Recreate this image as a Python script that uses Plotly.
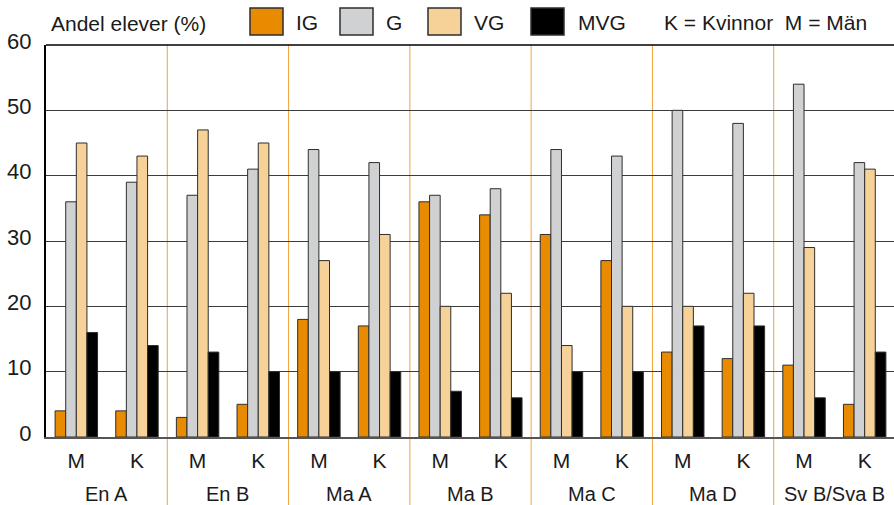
import plotly.graph_objects as go

# Kurser och kön (M = Män, K = Kvinnor)
courses = ["En A", "En B", "Ma A", "Ma B", "Ma C", "Ma D", "Sv B/Sva B"]
genders = ["M", "K"]

# Andel elever (%) per betyg, en post per kurs/kön i ordningen M, K
ig = [4, 4, 3, 5, 18, 17, 36, 34, 31, 27, 13, 12, 11, 5]
g = [36, 39, 37, 41, 44, 42, 37, 38, 44, 43, 50, 48, 54, 42]
vg = [45, 43, 47, 45, 27, 31, 20, 22, 14, 20, 20, 22, 29, 41]
mvg = [16, 14, 13, 10, 10, 10, 7, 6, 10, 10, 17, 17, 6, 13]

series_names = ["IG", "G", "VG", "MVG"]
series_values = [ig, g, vg, mvg]
series_colors = ["#E98B00", "#D0D1D3", "#F6D198", "#000000"]

y_ticks = [0, 10, 20, 30, 40, 50, 60]

W, H = 894, 505
ML, MR, MT, MB = 46, 0, 45, 68
PW, PH = W - ML - MR, H - MT - MB

FONT = "Liberation Sans, Arial, sans-serif"
TXT = "#1a1a1a"

n = len(courses) * len(genders)
xpos = list(range(n))
tick_text = [gd for _ in courses for gd in genders]

fig = go.Figure()
for name, vals, col in zip(series_names, series_values, series_colors):
    fig.add_trace(go.Bar(
        x=xpos, y=vals, name=name,
        marker=dict(color=col, line=dict(color="#2e2e2e", width=1)),
        showlegend=False, hoverinfo="x+y+name",
    ))

per_slot = PW / n
x_end = n - 0.5 - 1.0 / per_slot

def px2x(p):
    return (p - ML) / PW

def py2y(p):
    return (H - MB - p) / PH

shapes = []
annotations = []

# separators between courses, through the plot and the label area
for i in range(1, len(courses)):
    shapes.append(dict(
        type="line", xref="x", yref="paper",
        x0=2 * i - 0.5, x1=2 * i - 0.5, y0=-MB / PH, y1=1,
        line=dict(color="#F0A43C", width=1), layer="below",
    ))

# top frame line
shapes.append(dict(type="line", xref="paper", yref="paper", x0=0, x1=1.01, y0=1, y1=1,
                   line=dict(color="#000000", width=1.5)))

# course labels
for i, c in enumerate(courses):
    annotations.append(dict(
        x=2 * i + 0.5, xref="x", y=0, yref="paper", yshift=-57,
        text=c, showarrow=False, xanchor="center", yanchor="middle",
        font=dict(family=FONT, size=20, color=TXT),
    ))

# header: title text and legend
annotations.append(dict(
    x=px2x(49), y=py2y(23), xref="paper", yref="paper",
    text="Andel elever (%)", showarrow=False, xanchor="left", yanchor="middle",
    font=dict(family=FONT, size=21, color=TXT),
))
legend_items = [(250, 294), (340, 384), (428, 472), (531, 576)]
for (sx, tx), name, col in zip(legend_items, series_names, series_colors):
    shapes.append(dict(
        type="rect", xref="paper", yref="paper",
        x0=px2x(sx), x1=px2x(sx + 33), y0=py2y(35), y1=py2y(8),
        fillcolor=col, line=dict(color="#2e2e2e", width=1.5),
    ))
    annotations.append(dict(
        x=px2x(tx), y=py2y(22), xref="paper", yref="paper",
        text=name, showarrow=False, xanchor="left", yanchor="middle",
        font=dict(family=FONT, size=21, color=TXT),
    ))
annotations.append(dict(
    x=px2x(662), y=py2y(22), xref="paper", yref="paper",
    text="K = Kvinnor  M = Män", showarrow=False, xanchor="left", yanchor="middle",
    font=dict(family=FONT, size=21, color=TXT),
))

fig.update_layout(
    width=W, height=H,
    margin=dict(l=ML, r=MR, t=MT, b=MB, pad=0),
    paper_bgcolor="white", plot_bgcolor="white",
    barmode="group", bargap=0.3, bargroupgap=0.0,
    shapes=shapes, annotations=annotations,
    font=dict(family=FONT, size=21, color=TXT),
    xaxis=dict(
        range=[-0.5, x_end], tickmode="array", tickvals=xpos, ticktext=tick_text,
        showgrid=False, zeroline=False, showline=True, linecolor="#555555", linewidth=2,
        ticks="", ticklabelstandoff=4, tickfont=dict(family=FONT, size=21, color=TXT),
        fixedrange=True,
    ),
    yaxis=dict(
        range=[0, 60], tickmode="array", tickvals=y_ticks,
        showgrid=True, gridcolor="#3c3c3c", gridwidth=1,
        zeroline=False, showline=True, linecolor="#000000", linewidth=2,
        ticks="", ticklabelstandoff=8, ticklabelshift=-4,
        tickfont=dict(family=FONT, size=22, color=TXT),
        fixedrange=True,
    ),
)

fig.write_html("out.html")
